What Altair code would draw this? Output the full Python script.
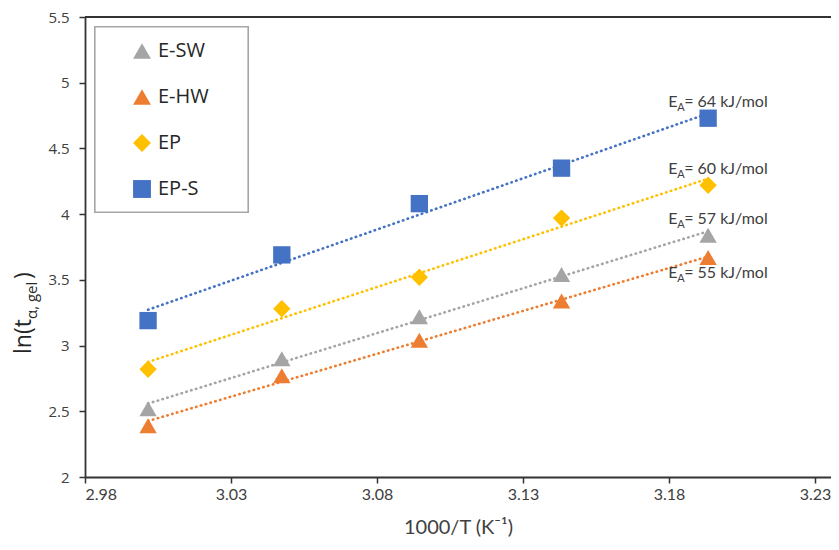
import altair as alt
import pandas as pd

# ---- data ----
x_vals = [3.0016, 3.0474, 3.0945, 3.1432, 3.1934]
series_names = ["E-SW", "E-HW", "EP", "EP-S"]
e_sw = [2.52, 2.90, 3.22, 3.54, 3.84]
e_hw = [2.39, 2.77, 3.04, 3.34, 3.67]
ep = [2.82, 3.28, 3.52, 3.97, 4.22]
ep_s = [3.19, 3.69, 4.08, 4.35, 4.73]
colors = ["#A5A5A5", "#ED7D31", "#FFC000", "#4472C4"]
shapes = ["triangle-up", "triangle-up", "diamond", "square"]

x_ticks = [2.98, 3.03, 3.08, 3.13, 3.18, 3.23]
y_ticks = [2, 2.5, 3, 3.5, 4, 4.5, 5, 5.5]

ann_series = ["EP-S", "EP", "E-SW", "E-HW"]
ann_rest = ["= 64 kJ/mol", "\u00a0= 60 kJ/mol", "\u00a0= 57 kJ/mol", "= 55 kJ/mol"]
ann_side = ["above", "above", "above", "below"]

W, H = 746, 460

values = {"E-SW": e_sw, "E-HW": e_hw, "EP": ep, "EP-S": ep_s}
rows = []
for s in series_names:
    for xv, yv in zip(x_vals, values[s]):
        rows.append({"series": s, "x": xv, "y": yv})
df = pd.DataFrame(rows)

ann_rows = []
for s, r, side in zip(ann_series, ann_rest, ann_side):
    ann_rows.append({"series": s, "x": x_vals[-1], "y": values[s][-1],
                     "E": "E", "A": "A", "rest": r, "side": side})
ann = pd.DataFrame(ann_rows)

xscale = alt.Scale(domain=[2.98, 2.98 + W / 2920], nice=False, zero=False)
yscale = alt.Scale(domain=[2, 5.5], nice=False, zero=False)
cscale = alt.Scale(domain=series_names, range=colors)
sscale = alt.Scale(domain=series_names, range=shapes)

axis_col = "#404040"
xaxis = alt.Axis(values=x_ticks, format=".2f", grid=False, labelFont="Lato",
                 labelFontSize=16, labelColor=axis_col, tickColor="#333333",
                 tickSize=6, domainColor="#333333", domainWidth=1.8, tickWidth=1.5,
                 labelPadding=3, title="1000/T (K\u207b\u00b9)", titleFont="Lato",
                 titleFontSize=20, titleFontWeight="normal", titleColor=axis_col,
                 titlePadding=15)
yaxis = alt.Axis(values=y_ticks, format="~g", grid=False, labelFont="Open Sans",
                 labelFontSize=15, labelColor=axis_col, tickColor="#333333",
                 tickSize=6, domainColor="#333333", domainWidth=1.8, tickWidth=1.5,
                 labelPadding=10, title=None)

legend = alt.Legend(title=None, orient="none", legendX=47, legendY=24,
                    labelFont="Open Sans", labelFontSize=20, labelColor="#262626",
                    symbolSize=320, rowPadding=26, labelOffset=6,
                    symbolStrokeWidth=0, padding=0)

base = alt.Chart(df)

box = alt.Chart(df).mark_rect(fill="white", stroke="#a6a6a6", strokeWidth=1.2).encode(
    x=alt.value(10), x2=alt.value(163), y=alt.value(10), y2=alt.value(195))

top_line = alt.Chart(df).mark_rule(color="#333333", strokeWidth=1.8).encode(
    x=alt.value(0), x2=alt.value(W), y=alt.value(0))

points = base.mark_point(filled=True, size=300, opacity=1).encode(
    x=alt.X("x:Q", scale=xscale, axis=xaxis),
    y=alt.Y("y:Q", scale=yscale, axis=yaxis),
    color=alt.Color("series:N", scale=cscale, legend=legend, sort=series_names),
    shape=alt.Shape("series:N", scale=sscale, legend=legend, sort=series_names),
)

lines = base.transform_regression("x", "y", groupby=["series"]).mark_line(
    strokeDash=[0.5, 4.5], strokeCap="round", strokeWidth=2.6
).encode(
    x=alt.X("x:Q", scale=xscale),
    y=alt.Y("y:Q", scale=yscale),
    stroke=alt.Stroke("series:N", scale=cscale, legend=None),
    detail="series:N",
)

ann_layers = []
for side, dy in [("above", -11), ("below", 20)]:
    a = alt.Chart(ann).transform_filter(alt.datum.side == side)
    ann_layers.append(a.mark_text(align="left", baseline="alphabetic", dx=-40, dy=dy,
                                  font="Lato", fontSize=16, color=axis_col).encode(
        x=alt.X("x:Q", scale=xscale), y=alt.Y("y:Q", scale=yscale), text="E:N"))
    ann_layers.append(a.mark_text(align="left", baseline="alphabetic", dx=-31, dy=dy + 4,
                                  font="Lato", fontSize=11, color=axis_col).encode(
        x=alt.X("x:Q", scale=xscale), y=alt.Y("y:Q", scale=yscale), text="A:N"))
    ann_layers.append(a.mark_text(align="left", baseline="alphabetic", dx=-24, dy=dy,
                                  font="Lato", fontSize=16, color=axis_col).encode(
        x=alt.X("x:Q", scale=xscale), y=alt.Y("y:Q", scale=yscale), text="rest:N"))

# y-axis title with subscript, built from text pieces
ttl = alt.Chart(pd.DataFrame({"t": ["ln(t"], "s": ["\u03b1, gel"], "c": [")"]}))
t1 = ttl.mark_text(angle=270, align="left", baseline="middle", font="Open Sans",
                   fontSize=23, color="#262626").encode(
    x=alt.value(-61), y=alt.value(337), text="t:N")
t2 = ttl.mark_text(angle=270, align="left", baseline="middle", font="Open Sans",
                   fontSize=15, color="#262626").encode(
    x=alt.value(-53), y=alt.value(302), text="s:N")
t3 = ttl.mark_text(angle=270, align="left", baseline="middle", font="Open Sans",
                   fontSize=23, color="#262626").encode(
    x=alt.value(-61), y=alt.value(262), text="c:N")

chart = alt.layer(box, top_line, points, lines, *ann_layers, t1, t2, t3).properties(
    width=W, height=H,
    autosize=alt.AutoSizeParams(type="none"),
    padding={"left": 77, "top": 9, "right": 0, "bottom": 65},
).configure_view(stroke=None).configure(background="white")

chart.save("out.html", embed_options={"renderer": "svg", "actions": False})
